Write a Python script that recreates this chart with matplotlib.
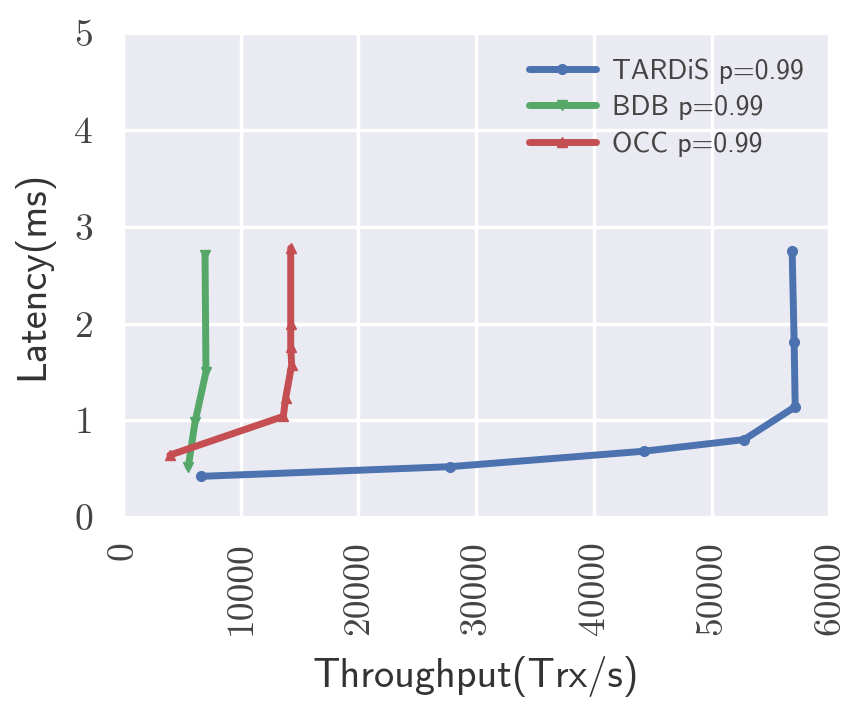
import matplotlib
matplotlib.use("Agg")
import matplotlib.pyplot as plt
import seaborn as sns

# throughput (Trx/s) vs latency (ms)
tardis_x = [6630, 27780, 44270, 52760, 57100, 57010, 56840]
tardis_y = [0.42, 0.52, 0.68, 0.80, 1.14, 1.81, 2.75]

bdb_x = [5550, 6120, 7050, 6970]
bdb_y = [0.52, 0.98, 1.50, 2.71]

occ_x = [3990, 13620, 13820, 14330, 14250, 14250, 14250]
occ_y = [0.64, 1.04, 1.23, 1.57, 1.76, 2.00, 2.78]

labels = ["TARDiS p=0.99", "BDB p=0.99", "OCC p=0.99"]

sns.set_style("darkgrid")
plt.rcParams["axes.unicode_minus"] = False

fig = plt.figure(figsize=(8.48, 7.01), dpi=100)
ax = fig.add_axes([0.145, 0.2625, 0.833, 0.69])

ax.plot(tardis_x, tardis_y, color="#4C72B0", marker="o", lw=5, ms=7, label=labels[0])
ax.plot(bdb_x, bdb_y, color="#55A868", marker="v", lw=5, ms=7, label=labels[1])
ax.plot(occ_x, occ_y, color="#C44E52", marker="^", lw=5, ms=7, label=labels[2])

ax.set_xlim(0, 60000)
ax.set_ylim(0, 5)
ax.set_xticks(range(0, 60001, 10000))
ax.set_yticks(range(0, 6))
ax.set_xticklabels([str(v) for v in range(0, 60001, 10000)], rotation=90,
                   fontfamily="cmr10", fontsize=27, color="#444444")
ax.set_yticklabels([str(v) for v in range(0, 6)], fontfamily="cmr10", fontsize=27,
                   color="#444444")
ax.tick_params(axis="x", pad=14)
ax.tick_params(axis="y", pad=18)
for g in ax.get_xgridlines() + ax.get_ygridlines():
    g.set_linewidth(2.5)

ax.set_xlabel("Throughput(Trx/s)", fontfamily="cmss10", fontsize=29, labelpad=15,
              color="#333333")
ax.set_ylabel("Latency(ms)", fontfamily="cmss10", fontsize=29, labelpad=15,
              color="#333333")

leg = ax.legend(loc="upper right", prop={"family": "cmss10", "size": 20},
                handlelength=2.4, handletextpad=0.6, frameon=False,
                borderaxespad=0.5, labelspacing=0.4)
for t in leg.get_texts():
    t.set_color("#444444")

fig.savefig("out.png", dpi=100)
